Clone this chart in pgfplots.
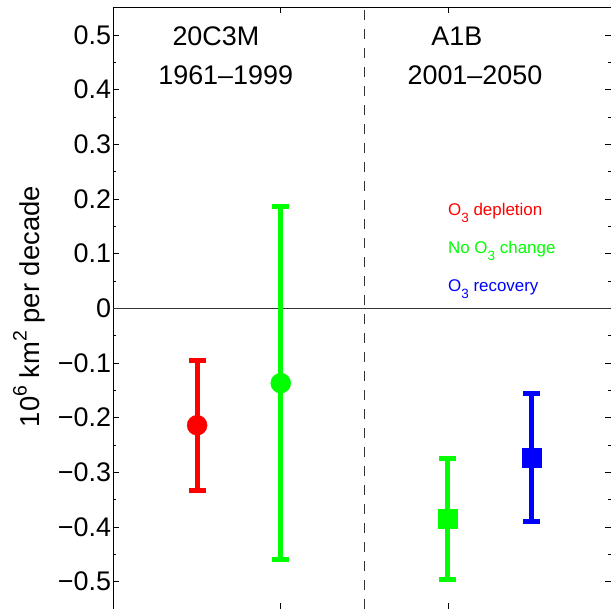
\documentclass[border=0pt]{standalone}
\usepackage{pgfplots}
\pgfplotsset{compat=1.18}
\usepackage{fontspec}
\setmainfont{Liberation Sans}
\definecolor{mred}{RGB}{255,0,0}
\definecolor{mgreen}{RGB}{0,255,0}
\definecolor{mblue}{RGB}{0,0,255}
\newcommand{\sups}[1]{\raisebox{13bp}{\fontsize{19.5}{20}\selectfont #1}}
\newcommand{\subs}[1]{\raisebox{-7bp}{\fontsize{13.5}{14}\selectfont #1}}
\begin{document}
\begin{tikzpicture}
\begin{axis}[
  name=ax,
  scale only axis,
  width=497.5bp, height=601.5bp,
  xmin=0, xmax=5.95,
  ymin=-0.55, ymax=0.55,
  axis line style={draw=none},
  xtick={2,4}, xticklabels={},
  ytick={-0.5,-0.4,-0.3,-0.2,-0.1,0,0.1,0.2,0.3,0.4,0.5},
  yticklabels={−0.5,−0.4,−0.3,−0.2,−0.1,0,0.1,0.2,0.3,0.4,0.5},
  minor y tick num=1,
  tick align=inside,
  xtick pos=both, ytick pos=both,
  major tick length=6bp, minor tick length=3bp,
  every tick/.style={black, line width=0.6bp},
  tick label style={font=\fontsize{27}{31}\selectfont},
  yticklabel style={xshift=1bp},
  ylabel={10\sups{6} km\sups{2} per decade},
  ylabel style={font=\fontsize{27.5}{31}\selectfont, at={(axis description cs:-0.1487,0.5026)}, anchor=base},
  clip=false,
  error bars/error bar style={line width=5bp},
  error bars/error mark options={rotate=90, mark size=8.5bp, line width=5bp},
]
\draw[black, line width=0.9bp] (rel axis cs:0,0) -- (rel axis cs:0,1) -- (rel axis cs:1,1);
\addplot[black!80, line width=0.8bp, forget plot] coordinates {(0,0) (5.95,0)};
\addplot[black!80, line width=0.8bp, dash pattern=on 10bp off 9bp, forget plot] coordinates {(3,-0.55) (3,0.55)};
% 20C3M O3 depletion
\addplot[mred, only marks, mark=*, mark size=10bp, mark options={draw=mred, fill=mred},
  error bars/.cd, y dir=both, y explicit]
  coordinates {(1,-0.214) +- (0,0.119)};
% 20C3M no change
\addplot[mgreen, only marks, mark=*, mark size=10bp, mark options={draw=mgreen, fill=mgreen},
  error bars/.cd, y dir=both, y explicit]
  coordinates {(2,-0.137) +- (0,0.323)};
% A1B no change
\addplot[mgreen, only marks, mark=square*, mark size=9.5bp, mark options={draw=mgreen, fill=mgreen},
  error bars/.cd, y dir=both, y explicit]
  coordinates {(4,-0.385) += (0,0.110) -= (0,0.111)};
% A1B recovery
\addplot[mblue, only marks, mark=square*, mark size=9.5bp, mark options={draw=mblue, fill=mblue},
  error bars/.cd, y dir=both, y explicit]
  coordinates {(5,-0.2735) += (0,0.1175) -= (0,0.1165)};
\node[anchor=base, font=\fontsize{27}{31}\selectfont] at (axis cs:1.2246,0.4798) {20C3M};
\node[anchor=base, font=\fontsize{27}{31}\selectfont] at (axis cs:1.3417,0.4093) {1961–1999};
\node[anchor=base, font=\fontsize{27}{31}\selectfont] at (axis cs:4.106,0.4798) {A1B};
\node[anchor=base, font=\fontsize{27}{31}\selectfont] at (axis cs:4.3226,0.4093) {2001–2050};
\node[anchor=base west, inner sep=0pt, text=mred, font=\fontsize{17}{20}\selectfont] at (axis cs:4.0,0.1694) {O\subs{3} depletion};
\node[anchor=base west, inner sep=0pt, text=mgreen, font=\fontsize{17}{20}\selectfont] at (axis cs:4.0,0.1008) {No O\subs{3} change};
\node[anchor=base west, inner sep=0pt, text=mblue, font=\fontsize{17}{20}\selectfont] at (axis cs:4.0,0.0307) {O\subs{3} recovery};
\end{axis}
\pgfresetboundingbox
\path[use as bounding box] ([xshift=-113.5bp]ax.south west) rectangle ([yshift=7.5bp]ax.north east);
\end{tikzpicture}
\end{document}
